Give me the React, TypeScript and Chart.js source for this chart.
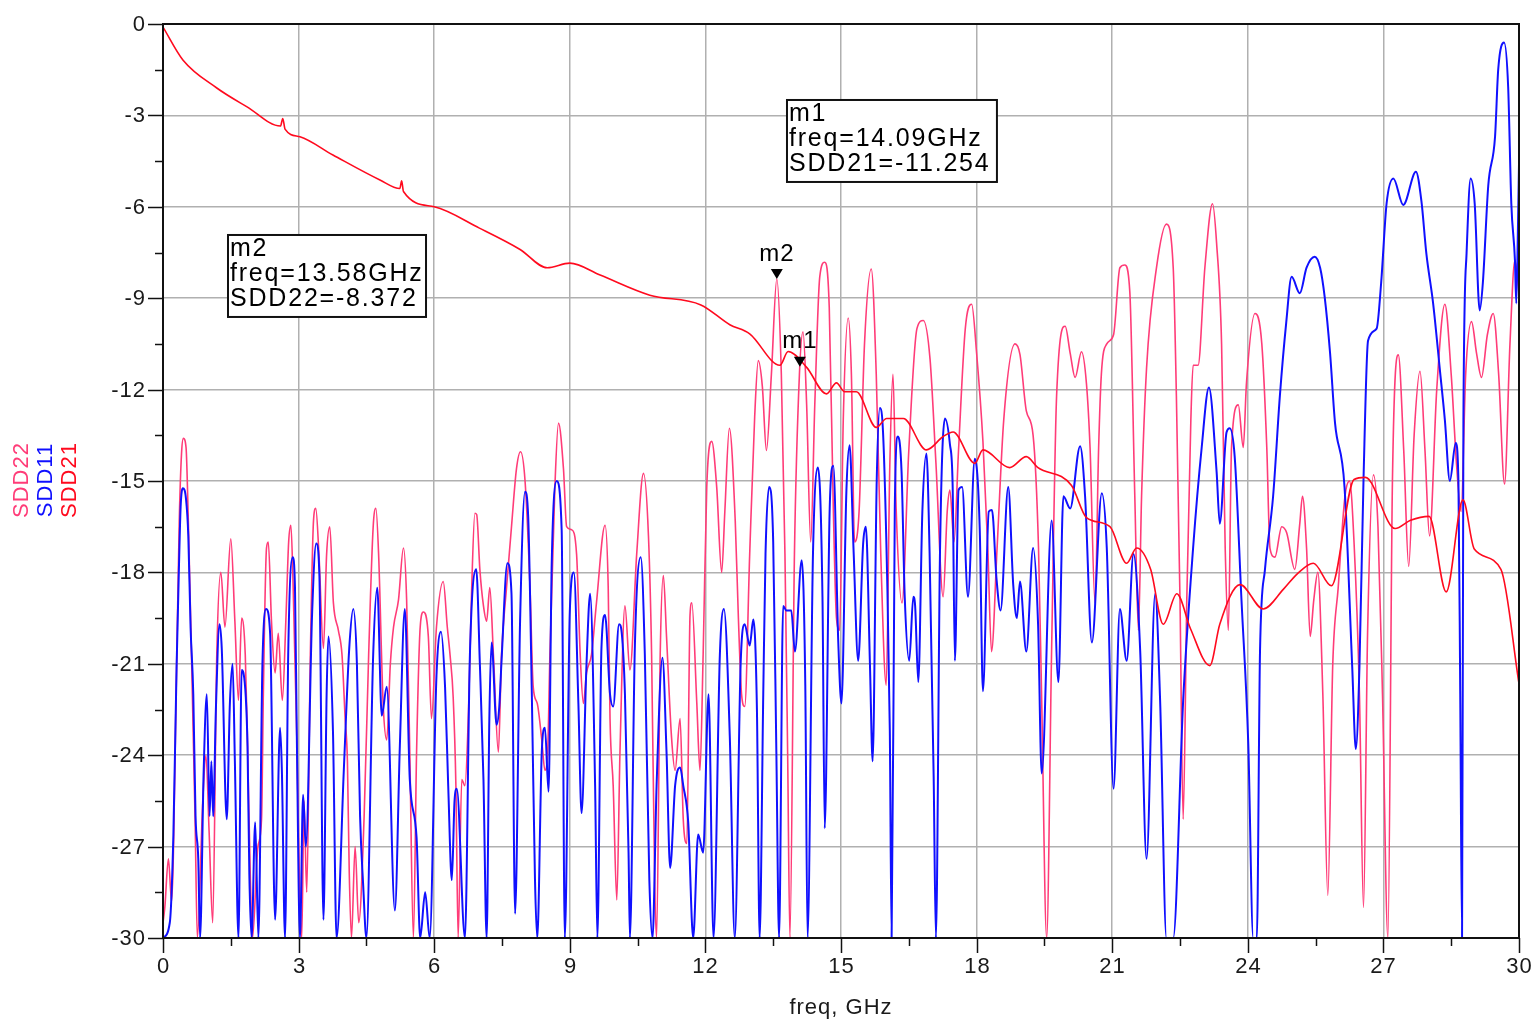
import React, { useEffect, useRef } from 'react';
import { Chart, registerables } from 'chart.js';

Chart.register(...registerables);

// ---------- data ----------
const xTickValues = [0, 3, 6, 9, 12, 15, 18, 21, 24, 27, 30];
const yTickValues = [0, -3, -6, -9, -12, -15, -18, -21, -24, -27, -30];
const xAxisTitle = 'freq, GHz';

const seriesNames = ['SDD22', 'SDD11', 'SDD21'];

// SDD21 [freq GHz, dB]
const sdd21Points: [number, number][] = [
  [0, -0.1], [0.44, -1.18], [1.19, -2.1], [1.86, -2.72], [2.6, -3.35], [2.65, -3.1], [2.7, -3.45], [3.03, -3.7],
  [3.76, -4.3], [4.8, -5.12], [5.24, -5.4], [5.28, -5.15], [5.32, -5.5], [6.0, -6.0], [7.0, -6.7], [7.9, -7.4],
  [8.5, -8.0], [9.0, -7.85], [9.67, -8.24], [10.77, -8.9], [11.9, -9.22], [12.54, -9.87], [12.98, -10.17],
  [13.65, -11.2], [13.83, -10.75], [14.24, -11.27], [14.68, -12.14], [14.9, -11.78], [15.08, -12.07],
  [15.34, -12.07], [15.78, -13.24], [16.01, -12.95], [16.38, -12.95], [16.89, -13.98], [17.26, -13.54],
  [17.48, -13.39], [17.96, -14.42], [18.14, -13.98], [18.73, -14.56], [19.1, -14.2], [19.35, -14.55],
  [20.1, -15.15], [20.43, -16.2], [20.95, -16.5], [21.32, -17.7], [21.54, -17.2], [21.85, -17.9],
  [22.13, -19.7], [22.43, -18.7], [22.73, -19.84], [23.16, -21.06], [23.38, -19.7], [23.83, -18.4],
  [24.34, -19.2], [24.79, -18.55], [25.1, -18.04], [25.45, -17.7], [25.85, -18.44], [26.35, -14.95],
  [26.6, -14.88], [27.26, -16.56], [27.6, -16.29], [28.01, -16.16], [28.39, -18.64], [28.76, -15.62],
  [29.01, -17.23], [29.6, -17.9], [30, -21.65],
];

// SDD11 [freq GHz, dB]
const sdd11Points: [number, number][] = [
  [0, -30], [0.15, -29.5], [0.23, -26.6], [0.3, -21.15], [0.35, -18.0], [0.39, -15.85], [0.44, -15.24],
  [0.51, -15.6], [0.56, -16.8], [0.61, -19.8], [0.67, -22.0], [0.72, -26.0], [0.78, -27.4], [0.82, -30],
  [0.9, -24.5], [0.97, -22.0], [1.03, -26.0], [1.07, -24.2], [1.11, -26.0], [1.17, -22.5], [1.25, -19.7],
  [1.3, -20.5], [1.41, -26.1], [1.48, -22.3], [1.54, -21.0], [1.59, -24.2], [1.67, -30], [1.74, -21.2],
  [1.78, -21.3], [1.87, -23.7], [1.91, -27.9], [1.96, -30], [2.04, -26.2], [2.11, -30], [2.2, -21.0],
  [2.28, -19.2], [2.37, -20.0], [2.48, -29.4], [2.59, -23.1], [2.63, -24.5], [2.7, -30], [2.77, -20.7],
  [2.87, -17.5], [2.92, -18.5], [2.96, -23.3], [3.03, -30], [3.1, -25.3], [3.16, -27.0], [3.3, -19.3],
  [3.39, -17.05], [3.46, -18.1], [3.55, -29.4], [3.62, -22.0], [3.66, -20.1], [3.76, -23.2], [3.84, -30],
  [4.0, -24.5], [4.12, -20.5], [4.21, -19.2], [4.29, -21.0], [4.36, -26.0], [4.43, -28.3], [4.5, -30],
  [4.65, -20.7], [4.74, -18.5], [4.84, -22.7], [4.95, -21.75], [5.13, -29.1], [5.24, -23.7], [5.35, -19.2],
  [5.46, -24.8], [5.61, -26.7], [5.69, -30], [5.8, -28.5], [5.9, -30], [6.05, -21.4], [6.15, -19.95],
  [6.24, -21.75], [6.31, -25.0], [6.39, -28.1], [6.45, -25.5], [6.5, -25.1], [6.68, -30], [6.79, -20.7],
  [6.93, -17.9], [7.01, -21.0], [7.09, -24.8], [7.16, -30], [7.22, -22.8], [7.27, -20.3], [7.38, -23.0],
  [7.44, -22.4], [7.49, -20.9], [7.62, -17.7], [7.71, -18.7], [7.79, -29.2], [7.9, -19.6], [8.01, -15.35],
  [8.08, -16.2], [8.16, -22.0], [8.23, -28.1], [8.28, -30], [8.38, -23.9], [8.45, -23.1], [8.53, -25.2],
  [8.6, -17.7], [8.71, -15.0], [8.82, -16.6], [8.89, -30], [9.0, -19.3], [9.09, -18.0], [9.19, -22.3],
  [9.26, -25.9], [9.37, -21.0], [9.45, -18.7], [9.56, -25.0], [9.61, -30], [9.7, -20.5], [9.78, -19.4],
  [9.89, -22.0], [9.96, -22.4], [10.09, -19.7], [10.15, -20.0], [10.22, -22.0], [10.3, -27.2], [10.33, -30],
  [10.44, -20.4], [10.57, -17.5], [10.66, -20.7], [10.76, -28.1], [10.83, -30], [10.92, -25.0], [11.05, -20.8],
  [11.14, -23.9], [11.22, -27.7], [11.33, -25.0], [11.44, -24.4], [11.51, -25.0], [11.62, -26.2], [11.73, -30],
  [11.84, -26.6], [11.95, -27.2], [12.07, -22.0], [12.18, -30], [12.32, -20.7], [12.41, -19.2], [12.54, -23.4],
  [12.65, -30], [12.78, -21.0], [12.87, -19.7], [12.98, -20.4], [13.06, -19.55], [13.14, -22.5], [13.2, -30],
  [13.28, -22.0], [13.33, -17.4], [13.41, -15.2], [13.5, -17.0], [13.57, -23.9], [13.63, -30], [13.72, -19.1],
  [13.79, -19.25], [13.9, -19.25], [13.98, -20.6], [14.13, -17.6], [14.21, -21.7], [14.26, -30], [14.38, -17.4],
  [14.49, -14.56], [14.59, -18.8], [14.64, -26.4], [14.75, -15.9], [14.83, -14.5], [14.94, -20.3], [15.01, -22.3],
  [15.12, -15.3], [15.19, -13.83], [15.28, -17.35], [15.38, -20.9], [15.49, -17.05], [15.55, -16.5], [15.64, -21.0],
  [15.7, -24.2], [15.79, -15.0], [15.86, -12.6], [15.93, -13.4], [16.02, -18.1], [16.08, -23.2], [16.12, -30],
  [16.19, -15.9], [16.26, -13.54], [16.34, -14.7], [16.41, -18.8], [16.51, -20.9], [16.6, -18.8], [16.64, -19.1],
  [16.71, -21.6], [16.8, -16.0], [16.89, -14.1], [16.96, -17.35], [17.05, -24.7], [17.1, -30], [17.19, -17.35],
  [17.3, -12.95], [17.41, -13.8], [17.47, -15.15], [17.52, -20.9], [17.6, -15.3], [17.68, -15.2], [17.81, -18.8],
  [17.96, -14.27], [18.07, -16.6], [18.14, -21.9], [18.27, -16.0], [18.34, -15.95], [18.44, -18.2], [18.53, -19.25],
  [18.7, -15.2], [18.81, -18.4], [18.89, -19.5], [18.96, -18.3], [19.1, -20.6], [19.25, -17.2], [19.36, -19.7],
  [19.44, -24.6], [19.66, -16.3], [19.81, -21.6], [19.92, -15.5], [20.07, -15.9], [20.29, -13.86], [20.4, -15.5],
  [20.55, -20.3], [20.77, -15.4], [20.88, -17.2], [21.03, -25.1], [21.17, -19.2], [21.32, -20.9], [21.47, -17.4],
  [21.62, -20.6], [21.76, -27.4], [21.95, -18.7], [22.06, -22.2], [22.2, -30], [22.35, -30], [22.57, -22.2],
  [22.79, -17.2], [22.98, -13.9], [23.14, -11.93], [23.31, -14.7], [23.38, -16.4], [23.53, -13.4], [23.6, -13.27],
  [23.71, -14.2], [23.86, -18.9], [24.01, -23.6], [24.12, -30], [24.2, -30], [24.27, -20.6], [24.38, -17.9],
  [24.56, -15.5], [24.71, -12.2], [24.85, -9.8], [24.97, -8.3], [25.15, -8.84], [25.3, -8.0], [25.48, -7.64],
  [25.6, -8.0], [25.7, -8.95], [25.82, -10.8], [25.93, -13.1], [26.14, -15.2], [26.31, -21.1], [26.39, -23.8],
  [26.47, -21.1], [26.56, -14.95], [26.66, -10.4], [26.85, -10.0], [26.95, -8.5], [27.07, -5.9], [27.22, -5.07],
  [27.44, -5.94], [27.72, -4.85], [27.84, -5.8], [27.95, -7.53], [28.1, -9.17], [28.25, -11.36], [28.36, -13.0],
  [28.47, -15.0], [28.6, -13.75], [28.66, -15.0], [28.7, -22], [28.74, -30], [28.77, -13.0], [28.84, -7.53],
  [28.93, -5.07], [29.02, -5.9], [29.13, -9.4], [29.2, -8.5], [29.32, -5.3], [29.47, -3.7], [29.54, -1.5],
  [29.67, -0.61], [29.76, -2.06], [29.83, -5.9], [29.91, -7.75], [29.94, -9.17], [29.98, -6.4], [30, -4.6],
];

// SDD22 [freq GHz, dB]
const sdd22Points: [number, number][] = [
  [0, -29.5], [0.04, -29], [0.12, -27.4], [0.19, -28.8], [0.3, -21.2], [0.36, -16.3], [0.41, -14.1], [0.45, -13.6],
  [0.51, -13.9], [0.56, -16.3], [0.63, -20.7], [0.71, -26.1], [0.76, -30], [0.88, -25.5], [0.95, -24.0], [1.02, -26.5],
  [1.1, -29.5], [1.19, -20.7], [1.28, -18.0], [1.37, -19.8], [1.5, -16.9], [1.59, -19.6], [1.67, -22.2], [1.74, -19.5],
  [1.82, -20.7], [1.87, -23.6], [1.93, -27.9], [1.98, -30], [2.1, -27], [2.18, -26.1], [2.22, -22.0], [2.29, -17.2],
  [2.33, -17.0], [2.4, -19.6], [2.48, -21.3], [2.55, -20.0], [2.64, -22.2], [2.72, -19.5], [2.78, -17.0], [2.83, -16.45],
  [2.88, -18.5], [2.96, -23.4], [3.02, -28.3], [3.07, -30], [3.12, -25.5], [3.18, -28.5], [3.26, -20.7], [3.33, -16.3],
  [3.38, -15.9], [3.45, -17.4], [3.55, -20.5], [3.62, -17.4], [3.69, -16.5], [3.77, -19.0], [3.88, -19.9], [3.96, -20.7],
  [4.03, -22.8], [4.08, -24.2], [4.12, -27.8], [4.17, -30], [4.25, -27.0], [4.33, -29.5], [4.45, -26.0], [4.55, -20.7],
  [4.65, -16.5], [4.71, -15.9], [4.77, -17.4], [4.87, -22.3], [4.95, -23.5], [5.03, -21.0], [5.1, -19.8], [5.21, -18.9],
  [5.32, -17.2], [5.39, -18.9], [5.46, -23.9], [5.54, -30], [5.61, -23.9], [5.69, -19.8], [5.76, -19.3], [5.87, -20.1],
  [5.94, -22.8], [6.05, -19.8], [6.2, -18.3], [6.29, -19.8], [6.35, -20.7], [6.42, -22.1], [6.48, -25.0], [6.53, -30],
  [6.61, -24.8], [6.68, -25.0], [6.76, -22.5], [6.83, -18.5], [6.9, -16.06], [6.94, -16.1], [7.01, -17.9], [7.09, -19.1],
  [7.16, -19.6], [7.23, -18.5], [7.31, -20.7], [7.42, -23.9], [7.49, -20.7], [7.6, -18.5], [7.71, -16.5], [7.82, -14.6],
  [7.91, -14.04], [8.01, -15.0], [8.12, -18.5], [8.19, -21.75], [8.28, -22.3], [8.38, -23.5], [8.45, -24.5], [8.51, -23.9],
  [8.56, -20.7], [8.67, -15.2], [8.75, -13.1], [8.86, -14.6], [8.93, -16.5], [9.04, -16.6], [9.15, -17.4], [9.23, -20.7],
  [9.3, -22.3], [9.37, -21.3], [9.48, -20.7], [9.59, -19.0], [9.78, -16.45], [9.85, -18.5], [9.89, -22.8], [9.96, -25.0],
  [10.04, -28.75], [10.11, -23.9], [10.22, -19.1], [10.33, -21.2], [10.48, -17.4], [10.63, -14.75], [10.74, -16.8],
  [10.81, -20.7], [10.88, -28.3], [10.92, -30], [11.0, -20.7], [11.07, -18.1], [11.14, -20.1], [11.25, -23.4],
  [11.33, -24.5], [11.44, -22.8], [11.51, -26.1], [11.59, -26.9], [11.66, -19.4], [11.7, -19.0], [11.81, -22.3],
  [11.88, -24.5], [11.95, -20.7], [12.03, -15.2], [12.14, -13.7], [12.25, -15.2], [12.36, -18.0], [12.43, -16.0],
  [12.53, -13.27], [12.66, -16.3], [12.73, -19.5], [12.8, -22.0], [12.87, -22.4], [12.98, -17.4], [13.09, -12.9],
  [13.17, -11.05], [13.26, -11.9], [13.35, -14.0], [13.46, -11.5], [13.58, -8.37], [13.68, -11.5], [13.76, -17.4],
  [13.82, -24], [13.87, -30], [13.97, -17.4], [14.08, -11.5], [14.16, -10.1], [14.24, -12.5], [14.33, -17.0],
  [14.42, -12.5], [14.53, -8.3], [14.64, -7.82], [14.74, -9.3], [14.83, -15.9], [14.9, -19.5], [14.97, -19.9],
  [15.05, -13.0], [15.16, -9.65], [15.23, -11.5], [15.3, -17.0], [15.4, -16.0], [15.52, -10.5], [15.67, -8.04],
  [15.78, -11.5], [15.88, -17.4], [16.0, -21.7], [16.08, -14.5], [16.15, -11.5], [16.22, -15.9], [16.35, -19.0],
  [16.5, -14.0], [16.68, -10.0], [16.82, -9.73], [16.97, -11.0], [17.1, -14.4], [17.26, -18.8], [17.35, -16.0],
  [17.41, -15.3], [17.5, -17.0], [17.6, -14.0], [17.75, -10.0], [17.89, -9.2], [18.0, -10.8], [18.14, -13.7],
  [18.25, -17.3], [18.33, -20.6], [18.45, -17.3], [18.6, -13.0], [18.85, -10.5], [18.96, -10.85], [19.1, -12.7],
  [19.25, -13.5], [19.37, -17.2], [19.44, -22.2], [19.55, -30], [19.66, -20.5], [19.77, -12.2], [19.96, -9.92],
  [20.07, -10.8], [20.18, -11.6], [20.32, -10.76], [20.43, -11.8], [20.51, -13.9], [20.62, -19.0], [20.7, -13.9],
  [20.76, -11.5], [20.88, -10.5], [21.03, -10.2], [21.17, -8.0], [21.28, -7.91], [21.39, -8.8], [21.5, -15.5],
  [21.58, -19.9], [21.65, -15.5], [21.76, -11.3], [21.98, -8.0], [22.2, -6.57], [22.35, -8.0], [22.42, -12.2],
  [22.5, -18.9], [22.57, -26.1], [22.65, -18.9], [22.74, -13.0], [22.79, -11.2], [22.9, -11.2], [23.05, -8.0],
  [23.22, -5.9], [23.31, -7.2], [23.42, -10.5], [23.5, -17.2], [23.57, -19.9], [23.64, -13.9], [23.79, -12.5],
  [23.9, -13.9], [23.97, -11.8], [24.16, -9.5], [24.31, -10.5], [24.42, -13.9], [24.49, -17.2], [24.6, -17.5],
  [24.75, -16.5], [24.86, -16.7], [25.04, -17.9], [25.15, -16.4], [25.21, -15.5], [25.3, -17.2], [25.38, -20.1],
  [25.46, -18.9], [25.55, -18.0], [25.66, -22.0], [25.77, -28.6], [25.88, -21.0], [26.0, -18.5], [26.15, -15.5],
  [26.25, -15.0], [26.35, -17.0], [26.47, -22.0], [26.56, -29.0], [26.65, -20.0], [26.78, -14.8], [26.88, -16.5],
  [26.98, -22.0], [27.1, -30], [27.2, -15.0], [27.33, -10.86], [27.45, -14.0], [27.56, -17.8], [27.68, -13.5],
  [27.81, -11.4], [27.92, -14.0], [28.02, -16.8], [28.18, -12.0], [28.36, -9.2], [28.5, -11.5], [28.62, -14.5],
  [28.72, -16.0], [28.82, -11.5], [28.95, -9.77], [29.06, -10.8], [29.17, -11.6], [29.3, -10.2], [29.43, -9.5],
  [29.55, -11.5], [29.68, -15.1], [29.8, -10.5], [29.91, -7.75], [30, -8.8],
];

// markers
const markerNames = ['m1', 'm2'];
const markerTraces = ['SDD21', 'SDD22'];
const markerFreqs = [14.09, 13.58];
const markerValues = [-11.254, -8.372];

// ---------- styles / layout ----------
const COLORS: Record<string, string> = {
  SDD22: '#ff3c78',
  SDD11: '#1010ff',
  SDD21: '#ff0a1e',
};
const LABEL_FONT = '22px "Liberation Sans", Arial, sans-serif';
const MARKER_FONT = '24px "Liberation Sans", Arial, sans-serif';
const BOX_FONT = '25px "Liberation Sans", Arial, sans-serif';
// marker readout boxes, in data coordinates [x1, yTop, x2, yBottom]
const BOX_ANCHORS: Record<string, [number, number, number, number]> = {
  m1: [13.805, -2.494, 18.45, -5.185],
  m2: [1.438, -6.925, 5.819, -9.616],
};

function fmtFreq(f: number) {
  return f.toFixed(2) + 'GHz';
}

const overlayPlugin = {
  id: 'overlay',
  beforeDraw(chart: any) {
    const ctx = chart.ctx;
    ctx.save();
    ctx.fillStyle = '#ffffff';
    ctx.fillRect(0, 0, chart.width, chart.height);
    ctx.restore();
  },
  afterDraw(chart: any) {
    const ctx: CanvasRenderingContext2D = chart.ctx;
    const a = chart.chartArea;
    const xs = chart.scales.x;
    const ys = chart.scales.y;
    ctx.save();

    // frame
    ctx.strokeStyle = '#111';
    ctx.lineWidth = 2;
    ctx.strokeRect(a.left, a.top, a.right - a.left, a.bottom - a.top);

    // ticks
    ctx.lineWidth = 1.5;
    ctx.strokeStyle = '#111';
    ctx.fillStyle = '#1a1a1a';
    ctx.font = LABEL_FONT;
    (ctx as any).letterSpacing = '1px';

    // y ticks and labels
    yTickValues.forEach((v, i) => {
      const py = Math.round(ys.getPixelForValue(v)) + 0.5;
      ctx.beginPath();
      ctx.moveTo(a.left - 15, py);
      ctx.lineTo(a.left, py);
      ctx.stroke();
      ctx.textAlign = 'right';
      ctx.textBaseline = 'middle';
      ctx.fillText(String(v), a.left - 17, py);
      if (i < yTickValues.length - 1) {
        const mid = (v + yTickValues[i + 1]) / 2;
        const pm = Math.round(ys.getPixelForValue(mid)) + 0.5;
        ctx.beginPath();
        ctx.moveTo(a.left - 8, pm);
        ctx.lineTo(a.left, pm);
        ctx.stroke();
      }
    });

    // x ticks and labels
    xTickValues.forEach((v, i) => {
      const px = Math.round(xs.getPixelForValue(v)) + 0.5;
      ctx.beginPath();
      ctx.moveTo(px, a.bottom);
      ctx.lineTo(px, a.bottom + 15);
      ctx.stroke();
      ctx.textAlign = 'center';
      ctx.textBaseline = 'middle';
      ctx.fillText(String(v), px, a.bottom + 29);
      if (i < xTickValues.length - 1) {
        const mid = (v + xTickValues[i + 1]) / 2;
        const pm = Math.round(xs.getPixelForValue(mid)) + 0.5;
        ctx.beginPath();
        ctx.moveTo(pm, a.bottom);
        ctx.lineTo(pm, a.bottom + 8);
        ctx.stroke();
      }
    });

    // axis title
    ctx.textAlign = 'center';
    ctx.textBaseline = 'middle';
    ctx.fillText(xAxisTitle, (a.left + a.right) / 2, a.bottom + 70);

    // vertical legend labels
    const legendX = [22, 46, 70];
    seriesNames.forEach((name, i) => {
      ctx.save();
      ctx.translate(legendX[i], 480);
      ctx.rotate(-Math.PI / 2);
      ctx.fillStyle = COLORS[name];
      ctx.textAlign = 'center';
      ctx.textBaseline = 'middle';
      ctx.fillText(name, 0, 0);
      ctx.restore();
    });

    // markers
    markerNames.forEach((m, i) => {
      const px = xs.getPixelForValue(markerFreqs[i]);
      const py = ys.getPixelForValue(markerValues[i]);
      ctx.fillStyle = '#000';
      ctx.beginPath();
      ctx.moveTo(px, py);
      ctx.lineTo(px - 6, py - 10);
      ctx.lineTo(px + 6, py - 10);
      ctx.closePath();
      ctx.fill();
      ctx.font = MARKER_FONT;
      (ctx as any).letterSpacing = '1px';
      ctx.textAlign = 'center';
      ctx.textBaseline = 'middle';
      ctx.fillText(m, px, py - 25);

      // readout box
      const b = BOX_ANCHORS[m];
      const bx1 = xs.getPixelForValue(b[0]);
      const by1 = ys.getPixelForValue(b[1]);
      const bx2 = xs.getPixelForValue(b[2]);
      const by2 = ys.getPixelForValue(b[3]);
      ctx.fillStyle = '#ffffff';
      ctx.fillRect(bx1, by1, bx2 - bx1, by2 - by1);
      ctx.strokeStyle = '#111';
      ctx.lineWidth = 2;
      ctx.strokeRect(bx1, by1, bx2 - bx1, by2 - by1);
      ctx.fillStyle = '#000';
      ctx.font = BOX_FONT;
      (ctx as any).letterSpacing = '1.8px';
      ctx.textAlign = 'left';
      const lines = [m, 'freq=' + fmtFreq(markerFreqs[i]), markerTraces[i] + '=' + String(markerValues[i])];
      lines.forEach((t, k) => {
        ctx.fillText(t, bx1 + 2, by1 + 14 + k * 25);
      });
    });

    ctx.restore();
  },
};

function toXY(pts: [number, number][]) {
  return pts.map(([x, y]) => ({ x, y }));
}

export default function App() {
  const canvasRef = useRef<HTMLCanvasElement | null>(null);

  useEffect(() => {
    const canvas = canvasRef.current;
    if (!canvas) return;
    const chart = new Chart(canvas, {
      type: 'line',
      data: {
        datasets: [
          {
            label: 'SDD21',
            data: toXY(sdd21Points),
            borderColor: COLORS.SDD21,
            borderWidth: 1.6,
            pointRadius: 0,
            cubicInterpolationMode: 'monotone',
            order: 0,
          },
          {
            label: 'SDD11',
            data: toXY(sdd11Points),
            borderColor: COLORS.SDD11,
            borderWidth: 2,
            pointRadius: 0,
            cubicInterpolationMode: 'monotone',
            order: 1,
          },
          {
            label: 'SDD22',
            data: toXY(sdd22Points),
            borderColor: COLORS.SDD22,
            borderWidth: 1.6,
            pointRadius: 0,
            cubicInterpolationMode: 'monotone',
            order: 2,
          },
        ],
      } as any,
      options: {
        responsive: false,
        devicePixelRatio: 1,
        animation: false,
        events: [],
        layout: { padding: { top: 24, right: 14, left: 0, bottom: 0 } },
        plugins: {
          legend: { display: false },
          tooltip: { enabled: false },
        },
        scales: {
          x: {
            type: 'linear',
            min: 0,
            max: 30,
            ticks: { display: false, stepSize: 3 },
            grid: { color: '#b0b0b0', lineWidth: 1.5, drawTicks: false },
            border: { display: false },
            afterFit: (s: any) => {
              s.height = 82;
            },
          },
          y: {
            type: 'linear',
            min: -30,
            max: 0,
            ticks: { display: false, stepSize: 3 },
            grid: { color: '#b0b0b0', lineWidth: 1.5, drawTicks: false },
            border: { display: false },
            afterFit: (s: any) => {
              s.width = 163;
            },
          },
        },
      } as any,
      plugins: [overlayPlugin],
    });
    return () => chart.destroy();
  }, []);

  return (
    <div style={{ position: 'fixed', left: 0, top: 0, width: 1533, height: 1020, background: '#fff' }}>
      <canvas ref={canvasRef} width={1533} height={1020} style={{ display: 'block' }} />
    </div>
  );
}
